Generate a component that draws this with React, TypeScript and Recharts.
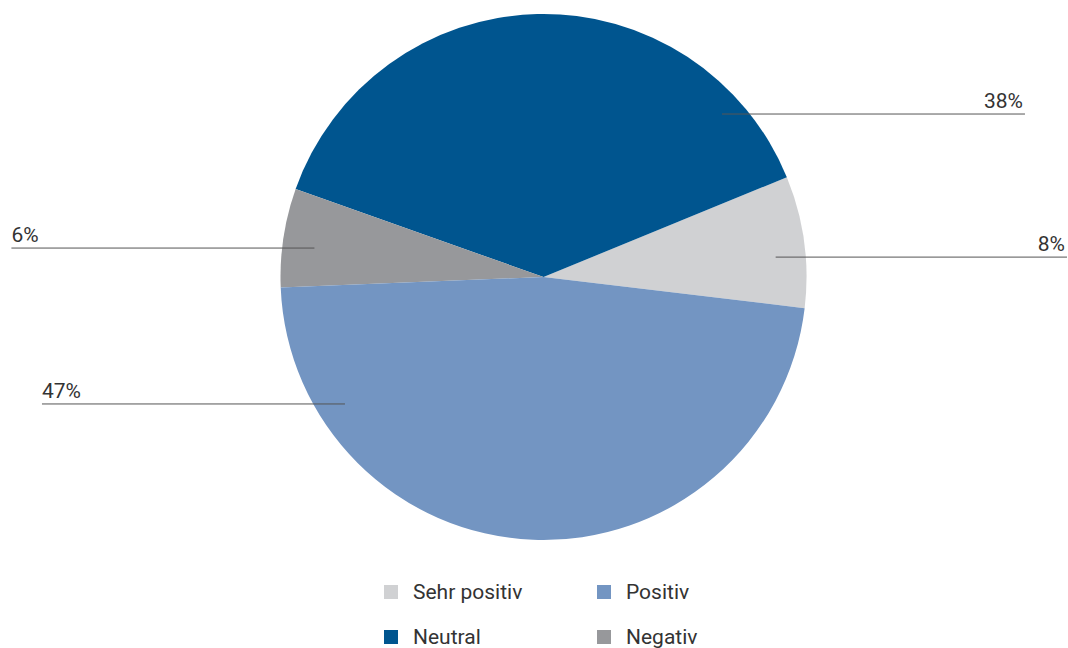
import React from 'react';
import { PieChart, Pie, Cell } from 'recharts';

const categories = ['Sehr positiv', 'Neutral', 'Negativ', 'Positiv'];
const shares = [8, 38, 6, 47];
const colors = ['#d0d1d3', '#00558f', '#97989b', '#7395c2'];
const legendOrder = ['Sehr positiv', 'Positiv', 'Neutral', 'Negativ'];

const data = categories.map((name, i) => ({ name, value: shares[i] }));

// where each leader line starts inside its slice (degrees counter-clockwise, share of radius)
const labelAngles = [4.9, 42.4, 172.8, 212.6];
const labelRadii = [0.886, 0.919, 0.878, 0.896];
const RAD = Math.PI / 180;
const W = 1068;
const H = 648;
const font = 'Roboto, "Open Sans", sans-serif';

function renderLabel(props: any) {
  const { cx, cy, outerRadius, index, value } = props;
  const a = labelAngles[index];
  const r = outerRadius * labelRadii[index];
  const x = cx + r * Math.cos(-a * RAD);
  const y = cy + r * Math.sin(-a * RAD);
  const right = Math.cos(-a * RAD) > 0;
  const xEnd = right ? Math.min(x + 303, W - 1) : x - 303;
  return (
    <g>
      <line x1={x} y1={y} x2={xEnd} y2={y} stroke="#555" strokeWidth={1} />
      <text
        x={right ? xEnd - 2 : xEnd}
        y={y - 6}
        textAnchor={right ? 'end' : 'start'}
        fontFamily={font}
        fontSize={21}
        fill="#333"
      >
        {value}%
      </text>
    </g>
  );
}

export default function App() {
  return (
    <div style={{ position: 'absolute', left: 0, top: 0, width: W, height: H, background: '#fff' }}>
      <PieChart width={W} height={H} margin={{ top: 0, right: 0, bottom: 0, left: 0 }}>
        <Pie
          data={data}
          dataKey="value"
          nameKey="name"
          cx={543.5}
          cy={277}
          outerRadius={263}
          startAngle={-6.8}
          endAngle={353.2}
          stroke="none"
          labelLine={false}
          label={renderLabel}
          isAnimationActive={false}
        >
          {data.map((d, i) => (
            <Cell key={d.name} fill={colors[i]} />
          ))}
        </Pie>
      </PieChart>
      <div
        style={{
          position: 'absolute',
          left: 384,
          top: 580,
          display: 'grid',
          gridTemplateColumns: '213px 200px',
          rowGap: 21,
          fontFamily: font,
          fontSize: 21,
          color: '#333',
        }}
      >
        {legendOrder.map((name) => (
          <div key={name} style={{ display: 'flex', alignItems: 'center', height: 24 }}>
            <span
              style={{
                display: 'inline-block',
                width: 14,
                height: 14,
                background: colors[categories.indexOf(name)],
                marginRight: 15,
              }}
            />
            {name}
          </div>
        ))}
      </div>
    </div>
  );
}
